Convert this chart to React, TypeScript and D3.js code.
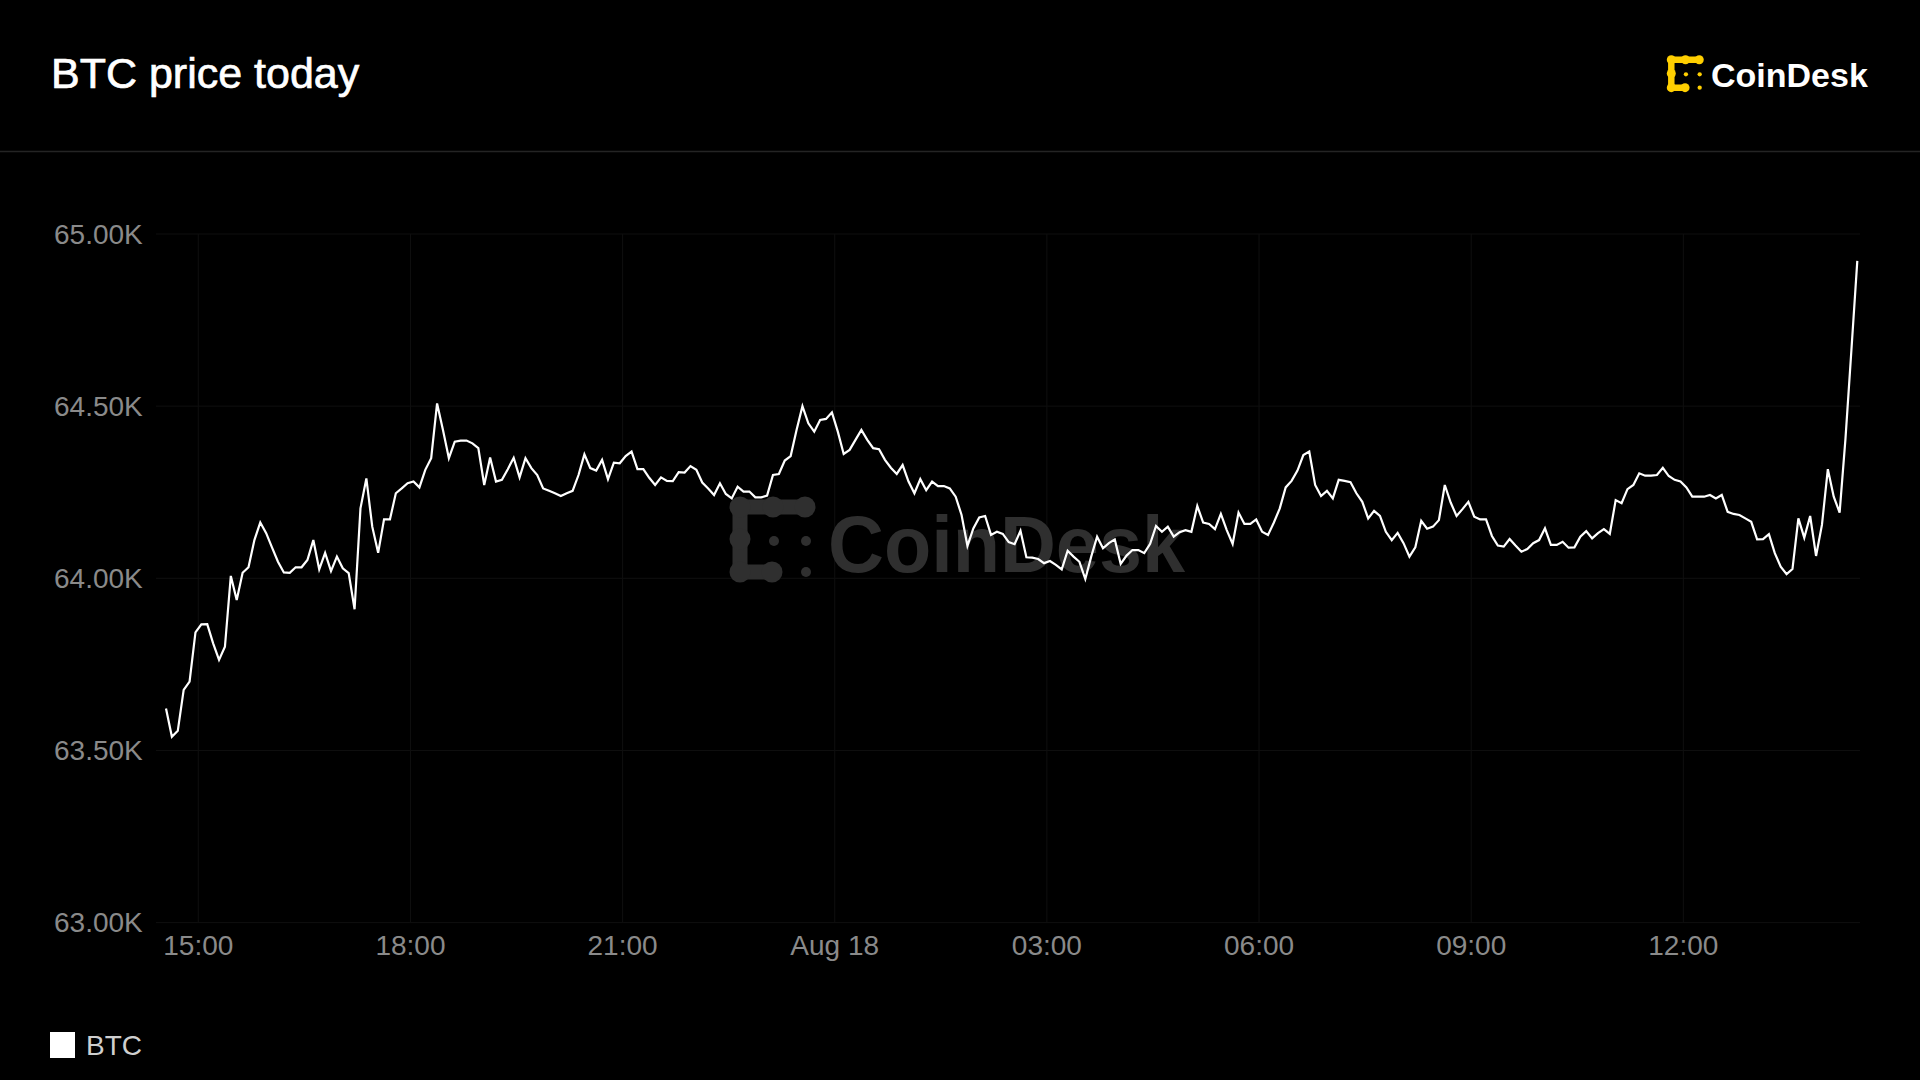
import React from 'react';
import * as d3 from 'd3';

// BTC price, 5-minute samples, Aug 17 14:32 UTC -> Aug 18 14:27 UTC
const START_TIME = new Date(Date.UTC(2024, 7, 17, 14, 32, 36));
const STEP_MINUTES = 5;

const btcPrices = [
  63622, 63540, 63557, 63676, 63700, 63843, 63866, 63867, 63811, 63763,
  63801, 64007, 63937, 64016, 64032, 64111, 64162, 64131, 64089, 64048,
  64017, 64016, 64032, 64032, 64053, 64111, 64026, 64074, 64021, 64063,
  64029, 64015, 63910, 64203, 64290, 64150, 64074, 64171, 64171, 64247,
  64261, 64276, 64281, 64264, 64315, 64349, 64508, 64431, 64349, 64397,
  64400, 64400, 64392, 64378, 64271, 64351, 64281, 64286, 64317, 64350,
  64293, 64349, 64320, 64300, 64261, 64254, 64247, 64239, 64247, 64254,
  64300, 64360, 64320, 64313, 64344, 64288, 64336, 64334, 64355, 64368,
  64317, 64317, 64292, 64271, 64293, 64283, 64282, 64308, 64307, 64326,
  64315, 64278, 64261, 64242, 64276, 64245, 64232, 64266, 64252, 64252,
  64235, 64235, 64240, 64300, 64303, 64342, 64355, 64431, 64500, 64450,
  64426, 64460, 64463, 64482, 64426, 64361, 64373, 64402, 64431, 64402,
  64378, 64375, 64344, 64321, 64303, 64329, 64281, 64247, 64288, 64256,
  64281, 64268, 64268, 64261, 64237, 64184, 64094, 64145, 64177, 64181,
  64126, 64135, 64129, 64105, 64099, 64138, 64061, 64060, 64056, 64044,
  64050, 64039, 64026, 64080, 64063, 64048, 63998, 64063, 64121, 64087,
  64102, 64113, 64042, 64066, 64082, 64082, 64073, 64100, 64152, 64135,
  64150, 64121, 64134, 64140, 64135, 64210, 64162, 64158, 64143, 64187,
  64140, 64100, 64191, 64158, 64158, 64171, 64135, 64126, 64162, 64203,
  64264, 64283, 64313, 64358, 64368, 64271, 64239, 64254, 64232, 64286,
  64283, 64279, 64247, 64222, 64174, 64196, 64181, 64135, 64111, 64132,
  64102, 64063, 64090, 64167, 64144, 64150, 64169, 64271, 64220, 64181,
  64201, 64222, 64179, 64171, 64171, 64123, 64095, 64092, 64114, 64095,
  64077, 64085, 64102, 64111, 64145, 64097, 64097, 64106, 64089, 64090,
  64121, 64137, 64116, 64131, 64143, 64129, 64227, 64218, 64259, 64271,
  64305, 64298, 64298, 64300, 64321, 64297, 64286, 64281, 64264, 64237,
  64237, 64237, 64242, 64232, 64242, 64193, 64187, 64184, 64174, 64164,
  64113, 64114, 64128, 64073, 64034, 64012, 64027, 64174, 64118, 64181,
  64065, 64155, 64317, 64237, 64191, 64407, 64663, 64922,
];

const yTickValues = [63000, 63500, 64000, 64500, 65000];
const seriesNames = ['BTC'];

const W = 1920;
const H = 1080;
const FONT = '"Liberation Sans", Arial, Helvetica, sans-serif';
const YELLOW = '#FFCF00';
const GRID = '#0f0f0f';

const times = btcPrices.map((_, i) => d3.utcMinute.offset(START_TIME, i * STEP_MINUTES));
const data = btcPrices.map((p, i) => ({ t: times[i], p }));

const x = d3
  .scaleUtc()
  .domain([times[0], times[times.length - 1]])
  .range([166, 1857.3]);

const y = d3.scaleLinear().domain([63000, 65000]).range([922.6, 234]);

const xTicks = x.ticks(d3.utcHour.every(3) as d3.TimeInterval);
const fmtTime = d3.utcFormat('%H:%M');
const fmtDay = d3.utcFormat('%b %d');
const xTickLabel = (d: Date) => (d.getUTCHours() === 0 ? fmtDay(d) : fmtTime(d));
const yTickLabel = (v: number) => (v / 1000).toFixed(2) + 'K';

const line = d3
  .line<{ t: Date; p: number }>()
  .x(d => x(d.t))
  .y(d => y(d.p));

// CoinDesk mark, drawn in an 86x86 box
const LogoMark: React.FC<{ tx: number; ty: number; s: number; fill: string }> = ({ tx, ty, s, fill }) => {
  const blobs: [number, number][] = [
    [10, 11], [43, 11], [75, 11],
    [10, 43], [10, 76], [42, 76],
  ];
  const dots: [number, number][] = [[44, 45], [76, 45], [76, 76]];
  return (
    <g transform={`translate(${tx},${ty}) scale(${s})`}>
      <path
        d="M75,11 L10,11 L10,76 L42,76"
        fill="none"
        stroke={fill}
        strokeWidth={15}
        strokeLinejoin="round"
        strokeLinecap="round"
      />
      {blobs.map(([cx, cy], i) => (
        <circle key={'b' + i} cx={cx} cy={cy} r={10.5} fill={fill} />
      ))}
      {dots.map(([cx, cy], i) => (
        <circle key={'d' + i} cx={cx} cy={cy} r={5} fill={fill} />
      ))}
    </g>
  );
};

const App: React.FC = () => {
  const [x0, x1] = [156, 1860];
  return (
    <svg
      width={W}
      height={H}
      style={{ position: 'absolute', left: 0, top: 0, background: '#000', display: 'block' }}
      fontFamily={FONT}
    >
      <rect x={0} y={0} width={W} height={H} fill="#000" />

      {/* header */}
      <text x={51} y={88} fontSize={43} fill="#fff" stroke="#fff" strokeWidth={0.7}>
        BTC price today
      </text>
      <LogoMark tx={1667} ty={55} s={0.43} fill={YELLOW} />
      <text x={1711} y={87} fontSize={34} fontWeight="bold" fill="#fff">
        CoinDesk
      </text>
      <line x1={0} x2={W} y1={151.5} y2={151.5} stroke="#242424" strokeWidth={1.5} />

      {/* grid */}
      <g>
        {yTickValues.map(v => (
          <line key={v} x1={x0} x2={x1} y1={y(v)} y2={y(v)} stroke={GRID} strokeWidth={1} />
        ))}
        {xTicks.map(t => (
          <line key={+t} x1={x(t)} x2={x(t)} y1={y(65000)} y2={y(63000)} stroke={GRID} strokeWidth={1} />
        ))}
      </g>

      {/* watermark */}
      <g>
        <LogoMark tx={730} ty={496} s={1} fill="#2f2f2f" />
        <text
          x={828}
          y={572}
          fontSize={80}
          fontWeight="bold"
          fill="#2f2f2f"
          textLength={357}
          lengthAdjust="spacingAndGlyphs"
        >
          CoinDesk
        </text>
      </g>

      {/* y axis labels */}
      {yTickValues.map(v => (
        <text key={v} x={54} y={y(v)} dy="0.35em" fontSize={28} fill="#8a8a8a">
          {yTickLabel(v)}
        </text>
      ))}

      {/* x axis labels */}
      {xTicks.map(t => (
        <text key={+t} x={x(t)} y={955} textAnchor="middle" fontSize={28} fill="#8a8a8a">
          {xTickLabel(t)}
        </text>
      ))}

      {/* series */}
      <path d={line(data) || ''} fill="none" stroke="#fff" strokeWidth={2.2} />

      {/* legend */}
      {seriesNames.map((name, i) => (
        <g key={name} transform={`translate(${50 + i * 150},1032)`}>
          <rect x={0} y={0} width={25} height={26} fill="#fff" />
          <text x={36} y={13} dy="0.35em" fontSize={28} fill="#cfcfcf">
            {name}
          </text>
        </g>
      ))}
    </svg>
  );
};

export default App;
